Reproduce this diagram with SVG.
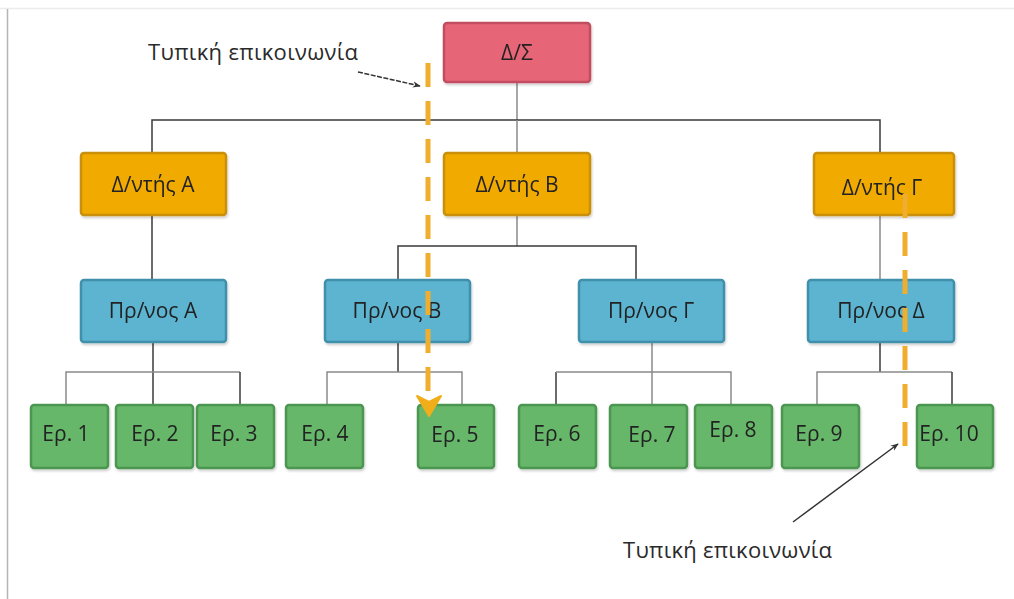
<svg xmlns="http://www.w3.org/2000/svg" width="1014" height="599" viewBox="0 0 1014 599">
  <defs>
    <style>
      .box { stroke-width: 2.5; }
      .root { fill: #e66577; stroke: #c24d60; }
      .dir { fill: #f1ab05; stroke: #c99008; }
      .head { fill: #5cb4d0; stroke: #4090ab; }
      .emp { fill: #66b76a; stroke: #4c9751; }
      .lbl { font-family: "Open Sans", "Noto Sans", sans-serif; font-size: 21px; fill: #222; text-anchor: middle; }
      .note { font-family: "Open Sans", "Noto Sans", sans-serif; font-size: 22px; fill: #2a2a2a; }
      .wire { fill: none; stroke: #3a3a3a; stroke-width: 1.5; }
      .wire-l { fill: none; stroke: #8a8a8a; stroke-width: 1.5; }
      .flow { fill: none; stroke: #f0ae2e; stroke-width: 5; stroke-dasharray: 24 14; }
      .ptr { fill: none; stroke: #333; stroke-width: 1.5; }
    </style>
    <marker id="tip" viewBox="0 0 10 10" refX="9" refY="5" markerWidth="8" markerHeight="8" orient="auto" markerUnits="userSpaceOnUse">
      <path d="M0,1 L10,5 L0,9 L3,5 Z" fill="#333"/>
    </marker>
    <filter id="sh" x="-10%" y="-10%" width="125%" height="130%">
      <feDropShadow dx="1" dy="2" stdDeviation="1.2" flood-color="#000" flood-opacity="0.18"/>
    </filter>
  </defs>

  <rect width="1014" height="599" fill="#fff"/>
  <!-- page frame -->
  <line x1="0" y1="8.5" x2="1014" y2="8.5" stroke="#ececec" stroke-width="1.5"/>
  <line x1="7.5" y1="9" x2="7.5" y2="599" stroke="#b5b5b5" stroke-width="1.5"/>

  <!-- connectors -->
  <g id="connectors">
    <path class="wire-l" d="M517,82 V120"/>
    <path class="wire" d="M152,152 V120 H880 V152"/>
    <path class="wire-l" d="M517,120 V152"/>
    <path class="wire" d="M152,215 V280"/>
    <path class="wire-l" d="M517,215 V246"/>
    <path class="wire" d="M398,280 V246 H636 V280"/>
    <path class="wire-l" d="M880,215 V280"/>
    <!-- Πρ/νος A -->
    <path class="wire" d="M153,342 V405"/>
    <path class="wire-l" d="M66,405 V372 H240"/>
    <path class="wire" d="M240,372 V405"/>
    <!-- Πρ/νος B -->
    <path class="wire" d="M398,342 V372"/>
    <path class="wire-l" d="M327,405 V372 H462 V405"/>
    <!-- Πρ/νος Γ -->
    <path class="wire-l" d="M652,342 V405"/>
    <path class="wire" d="M556,405 V372"/>
    <path class="wire-l" d="M556,372 H731 V405"/>
    <!-- Πρ/νος Δ -->
    <path class="wire" d="M880,342 V372"/>
    <path class="wire-l" d="M817,405 V372 H952"/>
    <path class="wire" d="M952,372 V405"/>
  </g>

  <!-- nodes -->
  <g id="n-ds" filter="url(#sh)"><rect class="box root" x="444" y="23" width="146" height="59" rx="3"/><text class="lbl" x="517" y="60">Δ/Σ</text></g>

  <g id="n-dir-a" filter="url(#sh)"><rect class="box dir" x="81" y="153" width="145" height="62" rx="3"/><text class="lbl" x="153" y="192">Δ/ντής A</text></g>
  <g id="n-dir-b" filter="url(#sh)"><rect class="box dir" x="444" y="153" width="146" height="62" rx="3"/><text class="lbl" x="517" y="192">Δ/ντής B</text></g>
  <g id="n-dir-g" filter="url(#sh)"><rect class="box dir" x="814" y="153" width="140" height="62" rx="3"/><text class="lbl" x="882" y="195">Δ/ντής Γ</text></g>

  <g id="n-head-a" filter="url(#sh)"><rect class="box head" x="81" y="280" width="145" height="62" rx="3"/><text class="lbl" x="153" y="318">Πρ/νος A</text></g>
  <g id="n-head-b" filter="url(#sh)"><rect class="box head" x="325" y="280" width="145" height="62" rx="3"/><text class="lbl" x="397" y="318">Πρ/νος B</text></g>
  <g id="n-head-g" filter="url(#sh)"><rect class="box head" x="579" y="280" width="145" height="62" rx="3"/><text class="lbl" x="651" y="318">Πρ/νος Γ</text></g>
  <g id="n-head-d" filter="url(#sh)"><rect class="box head" x="808" y="280" width="146" height="62" rx="3"/><text class="lbl" x="881" y="318">Πρ/νος Δ</text></g>

  <g id="n-e1" filter="url(#sh)"><rect class="box emp" x="31" y="405" width="77" height="63" rx="3"/><text class="lbl" x="66" y="441">Ερ. 1</text></g>
  <g id="n-e2" filter="url(#sh)"><rect class="box emp" x="116" y="405" width="77" height="63" rx="3"/><text class="lbl" x="155" y="441">Ερ. 2</text></g>
  <g id="n-e3" filter="url(#sh)"><rect class="box emp" x="197" y="405" width="77" height="63" rx="3"/><text class="lbl" x="234" y="441">Ερ. 3</text></g>
  <g id="n-e4" filter="url(#sh)"><rect class="box emp" x="286" y="405" width="77" height="63" rx="3"/><text class="lbl" x="325" y="441">Ερ. 4</text></g>
  <g id="n-e5" filter="url(#sh)"><rect class="box emp" x="418" y="405" width="76" height="63" rx="3"/><text class="lbl" x="455" y="442">Ερ. 5</text></g>
  <g id="n-e6" filter="url(#sh)"><rect class="box emp" x="519" y="405" width="77" height="63" rx="3"/><text class="lbl" x="557" y="441">Ερ. 6</text></g>
  <g id="n-e7" filter="url(#sh)"><rect class="box emp" x="610" y="405" width="77" height="63" rx="3"/><text class="lbl" x="652" y="442">Ερ. 7</text></g>
  <g id="n-e8" filter="url(#sh)"><rect class="box emp" x="695" y="405" width="77" height="63" rx="3"/><text class="lbl" x="733" y="437">Ερ. 8</text></g>
  <g id="n-e9" filter="url(#sh)"><rect class="box emp" x="782" y="405" width="77" height="63" rx="3"/><text class="lbl" x="819" y="441">Ερ. 9</text></g>
  <g id="n-e10" filter="url(#sh)"><rect class="box emp" x="917" y="405" width="76" height="63" rx="3"/><text class="lbl" x="949" y="441">Ερ. 10</text></g>

  <!-- formal communication paths -->
  <g id="paths">
    <path class="flow" d="M428,63 V392"/>
    <path d="M417,396 L429,402 L441,396 L429,416 Z" fill="#f0ae1a" stroke="#f0ae1a" stroke-width="2" stroke-linejoin="round"/>
    <path class="flow" d="M905,192 V452" stroke-dashoffset="-2"/>
  </g>

  <!-- annotations -->
  <g id="notes">
    <text class="note" x="148" y="60" textLength="210">Τυπική επικοινωνία</text>
    <path class="ptr" d="M358,72 L420,86" stroke-dasharray="5 1.5" marker-end="url(#tip)"/>
    <text class="note" x="623" y="558" textLength="209">Τυπική επικοινωνία</text>
    <path class="ptr" d="M793,522 L898,444" marker-end="url(#tip)"/>
  </g>
</svg>
